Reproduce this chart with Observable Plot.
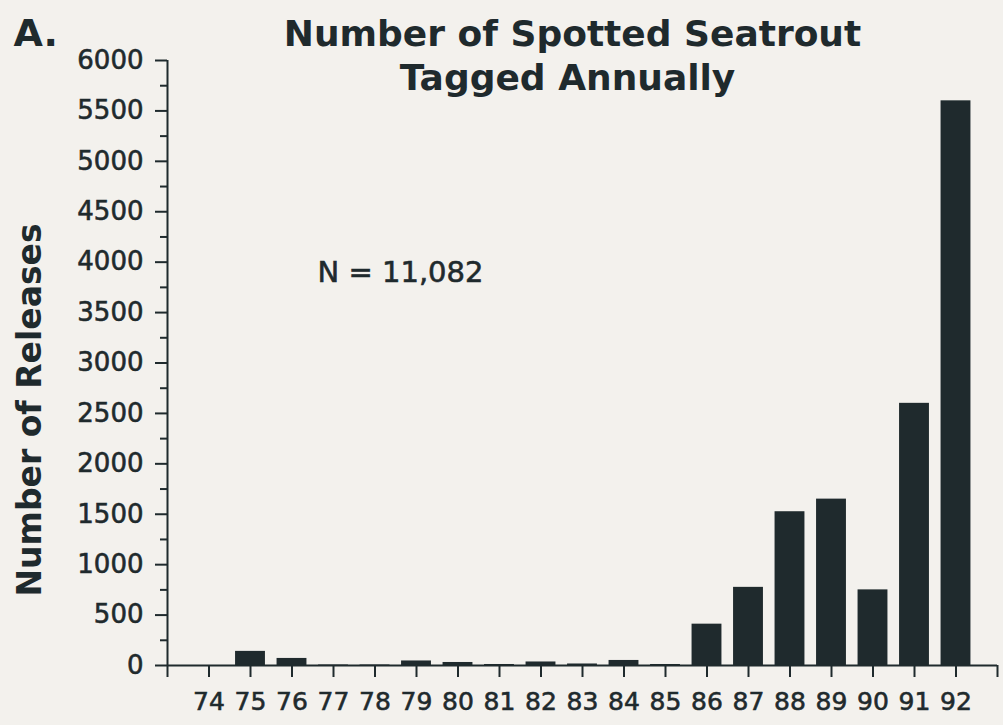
<!DOCTYPE html>
<html>
<head>
<meta charset="utf-8">
<script src="https://cdn.jsdelivr.net/npm/d3@7"></script>
<script src="https://cdn.jsdelivr.net/npm/@observablehq/plot@0.6"></script>
<style>
  html, body { margin: 0; padding: 0; background: #f3f1ed; }
  #chart { width: 1003px; height: 725px; }
  svg { overflow: visible; }
  #chart g[aria-label="y-axis tick label"] text,
  #chart g[aria-label="x-axis tick label"] text,
  #chart .note text { stroke: #1f2a2d; stroke-width: 0.6px; }
</style>
</head>
<body>
<div id="chart"></div>
<script>
// Data
const years = [74, 75, 76, 77, 78, 79, 80, 81, 82, 83, 84, 85, 86, 87, 88, 89, 90, 91, 92];
const releases = [0, 140, 70, 5, 5, 45, 30, 10, 35, 15, 50, 10, 410, 775, 1525, 1650, 750, 2600, 5600];
const yMajorTicks = [0, 500, 1000, 1500, 2000, 2500, 3000, 3500, 4000, 4500, 5000, 5500, 6000];
const yMinorTicks = [250, 750, 1250, 1750, 2250, 2750, 3250, 3750, 4250, 4750, 5250, 5750];
const xTicks = [73, 74, 75, 76, 77, 78, 79, 80, 81, 82, 83, 84, 85, 86, 87, 88, 89, 90, 91, 92, 93];
const titleLines = ["Number of Spotted Seatrout", "Tagged Annually"];
const panelLabel = "A.";
const yLabel = "Number of Releases";
const noteText = "N = 11,082";

const data = years.map((y, i) => ({year: y, count: releases[i]}));
const ink = "#1f2a2d";
const font = "DejaVu Sans";
const labelled = new Set(years);

const chart = Plot.plot({
  width: 1003,
  height: 725,
  marginLeft: 167,
  marginRight: 6,
  marginTop: 60,
  marginBottom: 60,
  style: {background: "transparent", fontFamily: font, color: ink},
  x: {domain: [73, 93], axis: null},
  y: {domain: [0, 6000], axis: null},
  marks: [
    Plot.rectY(data, {x1: d => d.year - 0.36, x2: d => d.year + 0.36, y: "count", fill: ink}),
    Plot.ruleY([0], {stroke: ink, strokeWidth: 2}),
    Plot.ruleX([73], {stroke: ink, strokeWidth: 2}),
    Plot.axisX({ticks: xTicks, tickSize: 12, tickPadding: 15, strokeWidth: 2, stroke: ink,
      tickFormat: d => labelled.has(d) ? String(d) : "", fontSize: 25, fill: ink, label: null}),
    Plot.axisY({ticks: yMajorTicks, tickSize: 12, tickPadding: 12, strokeWidth: 2, stroke: ink,
      tickFormat: d => String(d), fontSize: 26, fill: ink, label: null}),
    Plot.axisY({ticks: yMinorTicks, tickSize: 7, strokeWidth: 2, stroke: ink, tickFormat: () => "", label: null}),
    Plot.text([yLabel], {frameAnchor: "left", textAnchor: "middle", lineAnchor: "middle", dx: -137, dy: 47, rotate: -90, fontSize: 33, fontWeight: "bold", fill: ink}),
    Plot.text([titleLines[0]], {frameAnchor: "top", lineAnchor: "middle", dx: -10, dy: -26, fontSize: 36, fontWeight: "bold", fill: ink}),
    Plot.text([titleLines[1]], {frameAnchor: "top", lineAnchor: "middle", dx: -15, dy: 18, fontSize: 36, fontWeight: "bold", fill: ink}),
    Plot.text([panelLabel], {frameAnchor: "top-left", textAnchor: "start", lineAnchor: "middle", dx: -154, dy: -27, fontSize: 38, fontWeight: "bold", fill: ink}),
    Plot.text([noteText], {frameAnchor: "top-left", textAnchor: "middle", lineAnchor: "middle", dx: 233, dy: 212, fontSize: 29, fill: ink, className: "note"})
  ]
});
document.getElementById("chart").appendChild(chart);
</script>
</body>
</html>
